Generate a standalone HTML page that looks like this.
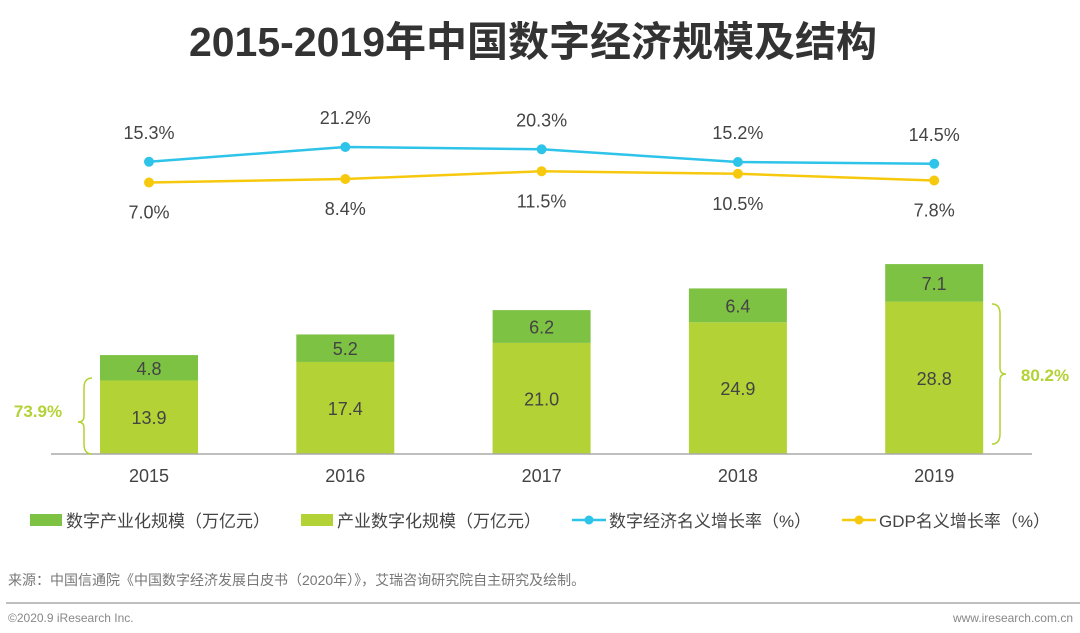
<!DOCTYPE html>
<html><head><meta charset="utf-8"><style>
body{margin:0;background:#fff;}
svg text{font-family:"Liberation Sans","Noto Sans CJK SC",sans-serif;}
</style></head><body>
<svg width="1080" height="628" viewBox="0 0 1080 628">
<text x="533" y="56" text-anchor="middle" font-size="41" font-weight="bold" fill="#333">2015-2019年中国数字经济规模及结构</text>
<g id="bars"></g>
<g id="lines"></g>
<line x1="51" y1="454" x2="1032" y2="454" stroke="#aaa" stroke-width="1.5"/>
<path d="M92,378 q-8,0 -8,10 v28 q0,6 -6,6 q6,0 6,6 v16 q0,10 8,10" fill="none" stroke="#b2d235" stroke-width="1.5"/>
<text x="38" y="417" text-anchor="middle" font-size="17" font-weight="bold" fill="#b2d235">73.9%</text>
<path d="M992,304 q8,0 8,10 v54 q0,6 6,6 q-6,0 -6,6 v54 q0,10 -8,10" fill="none" stroke="#b2d235" stroke-width="1.5"/>
<text x="1045" y="381" text-anchor="middle" font-size="17" font-weight="bold" fill="#b2d235">80.2%</text>
<g font-size="17" fill="#444">
<rect x="30" y="514" width="32" height="12" fill="#7dc243"/>
<text x="66" y="527">数字产业化规模（万亿元）</text>
<rect x="301" y="514" width="32" height="12" fill="#b2d235"/>
<text x="337" y="527">产业数字化规模（万亿元）</text>
<line x1="572" y1="520" x2="606" y2="520" stroke="#2ec3e8" stroke-width="2.5"/>
<circle cx="589" cy="520" r="4.5" fill="#2ec3e8"/>
<text x="609" y="527">数字经济名义增长率（%）</text>
<line x1="842" y1="520" x2="876" y2="520" stroke="#f6c90e" stroke-width="2.5"/>
<circle cx="859" cy="520" r="4.5" fill="#f6c90e"/>
<text x="879" y="527">GDP名义增长率（%）</text>
</g>
<text x="8" y="585" font-size="14" fill="#777">来源：中国信通院《中国数字经济发展白皮书（2020年）》，艾瑞咨询研究院自主研究及绘制。</text>
<line x1="6" y1="603" x2="1080" y2="603" stroke="#aaa" stroke-width="1.5"/>
<text x="8" y="622" font-size="12" fill="#888">©2020.9 iResearch Inc.</text>
<text x="1073" y="622" text-anchor="end" font-size="12" fill="#888">www.iresearch.com.cn</text>
</svg>
<script>
const years=["2015","2016","2017","2018","2019"];
const industrialization=[4.8,5.2,6.2,6.4,7.1];
const digitization=[13.9,17.4,21.0,24.9,28.8];
const digitalGrowth=[15.3,21.2,20.3,15.2,14.5];
const gdpGrowth=[7.0,8.4,11.5,10.5,7.8];
const NS="http://www.w3.org/2000/svg";
const x=i=>149+i*196.3;
const yb=v=>454-v*5.29;
const yl=v=>200-2.5*v;
const bars=document.getElementById('bars'),lines=document.getElementById('lines');
function mk(tag,attrs,parent,txt){const e=document.createElementNS(NS,tag);for(const k in attrs)e.setAttribute(k,attrs[k]);if(txt!==undefined)e.textContent=txt;parent.appendChild(e);return e;}
years.forEach((yr,i)=>{
 const d=digitization[i],n=industrialization[i];
 let r=mk('rect',{x:x(i)-49,y:yb(d),width:98,height:454-yb(d),fill:'#b2d235'},bars);
 
 
 r=mk('rect',{x:x(i)-49,y:yb(d+n),width:98,height:yb(d)-yb(d+n),fill:'#7dc243'},bars);
 
 
 let t=mk('text',{x:x(i),y:(yb(d)+454)/2+7,'text-anchor':'middle','font-size':18,fill:'#444'},bars,d.toFixed(1));
 
 
 t=mk('text',{x:x(i),y:(yb(d)+yb(d+n))/2+7,'text-anchor':'middle','font-size':18,fill:'#444'},bars,n.toFixed(1));
 
 
 t=mk('text',{x:x(i),y:482,'text-anchor':'middle','font-size':18,fill:'#444'},bars,yr);
 
 
});
function series(vals,color,name,above){
 const p=mk('polyline',{points:vals.map((v,i)=>x(i)+','+yl(v)).join(' '),fill:'none',stroke:color,'stroke-width':2.5},lines);
 
 
 vals.forEach((v,i)=>{
  const c=mk('circle',{cx:x(i),cy:yl(v),r:5,fill:color},lines);
  
  
  const t=mk('text',{x:x(i),y:above?yl(v)-23:yl(v)+36,'text-anchor':'middle','font-size':18,fill:'#444'},lines,v.toFixed(1)+'%');
  
  
 });
}
series(digitalGrowth,'#2ec3e8','digital-growth',true);
series(gdpGrowth,'#f6c90e','gdp-growth',false);
</script>
</body></html>
